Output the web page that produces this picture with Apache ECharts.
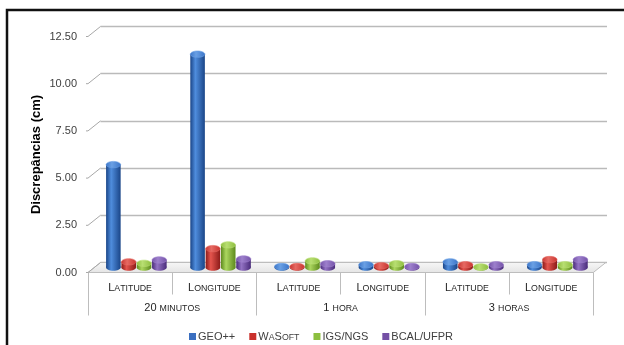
<!DOCTYPE html>
<html>
<head>
<meta charset="utf-8">
<script src="https://cdn.jsdelivr.net/npm/echarts@6/dist/echarts.min.js"></script>
<style>
  html, body { margin: 0; padding: 0; background: #fff; }
  #chart { width: 624px; height: 345px; }
</style>
</head>
<body>
<div id="chart"></div>
<script>
// Discrepancies (cm) per solution, component and session length
const subCategories = ['Latitude', 'Longitude', 'Latitude', 'Longitude', 'Latitude', 'Longitude'];
const groupCategories = ['20 minutos', '1 hora', '3 horas'];
const yTicks = [0, 2.5, 5, 7.5, 10, 12.5];
const seriesNames = ['GEO++', 'WaSoft', 'IGS/NGS', 'BCAL/UFPR'];
const geoValues = [5.45, 11.3, 0.05, 0.15, 0.3, 0.15];
const wasoftValues = [0.3, 1.0, 0.05, 0.1, 0.15, 0.42];
const igsValues = [0.22, 1.2, 0.35, 0.2, 0.03, 0.15];
const bcalValues = [0.4, 0.45, 0.2, 0.05, 0.15, 0.42];

const FONT = '"Liberation Sans", Arial, sans-serif';
// oblique depth of the 3D box (back wall offset from the front plane)
const DEPTH_X = 12.5, DEPTH_Y = 10;

const shades = [
  { legend: '#3b6fc0', dark: '#1a4588', light: '#4f8ddd', cap: '#3a74c8', capLight: '#6aa0e4' },
  { legend: '#c9302c', dark: '#8c1b19', light: '#e4544d', cap: '#c8332f', capLight: '#e66a63' },
  { legend: '#8cbf3f', dark: '#5d8a1d', light: '#acd65f', cap: '#8dbd3e', capLight: '#b8de72' },
  { legend: '#7450a5', dark: '#4a2c7b', light: '#9373c4', cap: '#7452a8', capLight: '#9d80cc' }
];

// "Latitude" -> L + small-caps ATITUDE
function smallCaps(str) {
  let out = '';
  for (const ch of str) {
    if (ch >= 'a' && ch <= 'z') out += '{s|' + ch.toUpperCase() + '}';
    else out += '{b|' + ch + '}';
  }
  return out;
}
function richCaps(big, small, color) {
  return {
    b: { fontSize: big, fontFamily: FONT, color: color, lineHeight: big, verticalAlign: 'bottom' },
    s: { fontSize: small, fontFamily: FONT, color: color, lineHeight: big, verticalAlign: 'bottom' }
  };
}

function cylinder(sIdx) {
  const c = shades[sIdx];
  return function (params, api) {
    const i = api.value(0), v = api.value(1);
    const base = api.coord([i, 0]);
    const top = api.coord([i, v]);
    const band = api.size([1, 0])[0];
    const step = band * 0.182;
    const w = step * 0.95;
    const cx = base[0] + (sIdx - 1.5) * step + DEPTH_X / 2;
    const by = base[1] - DEPTH_Y / 2;
    const ty = top[1] - DEPTH_Y / 2;
    const ry = 3.2;
    const bodyFill = new echarts.graphic.LinearGradient(0, 0, 1, 0, [
      { offset: 0, color: c.dark }, { offset: 0.35, color: c.light }, { offset: 1, color: c.dark }
    ]);
    const capFill = new echarts.graphic.LinearGradient(0, 0, 1, 0, [
      { offset: 0, color: c.cap }, { offset: 0.4, color: c.capLight }, { offset: 1, color: c.cap }
    ]);
    return {
      type: 'group',
      children: [
        { type: 'ellipse', shape: { cx: cx, cy: by, rx: w / 2, ry: ry }, style: { fill: bodyFill } },
        { type: 'rect', shape: { x: cx - w / 2, y: ty, width: w, height: Math.max(0, by - ty) }, style: { fill: bodyFill } },
        { type: 'ellipse', shape: { cx: cx, cy: ty, rx: w / 2, ry: ry }, style: { fill: capFill, stroke: c.capLight, lineWidth: 0.6 } }
      ]
    };
  };
}

const valueLists = [geoValues, wasoftValues, igsValues, bcalValues];

const barSeries = seriesNames.map((name, s) => ({
  name: name,
  type: 'custom',
  xAxisIndex: 0,
  yAxisIndex: 0,
  z: 5,
  itemStyle: { color: shades[s].legend },
  renderItem: cylinder(s),
  data: valueLists[s].map((v, i) => [i, v])
}));

const chart = echarts.init(document.getElementById('chart'), null, { renderer: 'canvas' });

chart.setOption({
  animation: false,
  backgroundColor: '#ffffff',
  color: shades.map(c => c.legend),
  graphic: [{
    type: 'rect', z: 100,
    shape: { x: 7, y: 10, width: 700, height: 400 },
    style: { fill: 'none', stroke: '#111', lineWidth: 2.5 }
  }],
  grid: [
    { left: 88, right: 30.7, top: 36.5, bottom: 72.5 },
    { left: 88 + DEPTH_X, right: 30.7 - DEPTH_X - 1.2, top: 36.5 - DEPTH_Y, bottom: 72.5 + DEPTH_Y }
  ],
  xAxis: [
    {
      type: 'category', gridIndex: 0, position: 'bottom', data: subCategories,
      axisLine: { lineStyle: { color: '#bdbdbd', width: 1 } },
      axisTick: { show: true, interval: 0, length: 22, lineStyle: { color: '#bdbdbd' } },
      axisLabel: {
        interval: 0, margin: 9.5,
        formatter: v => smallCaps(v),
        rich: richCaps(11, 8.8, '#262626')
      }
    },
    {
      type: 'category', gridIndex: 0, position: 'bottom', data: groupCategories,
      axisLine: { show: false },
      axisTick: { show: true, interval: 0, length: 43, lineStyle: { color: '#bdbdbd' } },
      axisLabel: {
        interval: 0, margin: 29.5,
        formatter: v => smallCaps(v),
        rich: richCaps(11, 8.8, '#262626')
      }
    },
    { type: 'category', gridIndex: 1, data: subCategories, show: false }
  ],
  yAxis: [
    {
      type: 'value', gridIndex: 0, min: 0, max: 12.5, interval: 2.5,
      name: 'Discrepâncias (cm)', nameLocation: 'middle', nameGap: 45, nameMoveOverlap: false,
      nameTextStyle: { fontSize: 13, fontWeight: 'bold', fontFamily: FONT, color: '#000' },
      axisLine: { show: false }, axisTick: { show: false }, splitLine: { show: false },
      axisLabel: { margin: 11, fontSize: 11, fontFamily: FONT, color: '#404040', formatter: v => v.toFixed(2) }
    },
    {
      type: 'value', gridIndex: 1, min: 0, max: 12.5, interval: 2.5,
      axisLine: { show: false }, axisTick: { show: false }, axisLabel: { show: false },
      splitLine: { lineStyle: { color: '#bababa', width: 1.3 } }
    }
  ],
  legend: {
    left: 184, top: 326,
    icon: 'rect', itemWidth: 7, itemHeight: 7, itemGap: 14,
    data: seriesNames,
    formatter: n => smallCaps(n),
    textStyle: { fontSize: 11, fontFamily: FONT, color: '#404040', padding: [0, 0, 0, -3], rich: richCaps(11, 8.8, '#404040') }
  },
  series: [
    {
      // floor of the 3D box
      type: 'custom', xAxisIndex: 0, yAxisIndex: 0, z: 2, silent: true,
      legendHoverLink: false,
      data: [[0, 0]],
      renderItem: function (params, api) {
        const cs = params.coordSys;
        const fy = cs.y + cs.height;
        return {
          type: 'polygon',
          shape: { points: [[cs.x, fy], [cs.x + cs.width, fy], [cs.x + cs.width + DEPTH_X, fy - DEPTH_Y], [cs.x + DEPTH_X, fy - DEPTH_Y]] },
          style: {
            fill: new echarts.graphic.LinearGradient(0, 0, 0, 1, [
              { offset: 0, color: '#f7f7f7' }, { offset: 1, color: '#e4e4e4' }
            ]),
            stroke: '#bdbdbd', lineWidth: 1
          }
        };
      }
    },
    {
      // oblique connectors from the value ticks to the back wall
      type: 'custom', xAxisIndex: 0, yAxisIndex: 0, z: 2, silent: true,
      data: yTicks.map(v => [0, v]),
      renderItem: function (params, api) {
        const cs = params.coordSys;
        const y = api.coord([0, api.value(1)])[1];
        return {
          type: 'polyline',
          shape: { points: [[cs.x - 2, y], [cs.x, y], [cs.x + DEPTH_X, y - DEPTH_Y]] },
          style: { stroke: '#a8a8a8', lineWidth: 1, fill: 'none' }
        };
      }
    }
  ].concat(barSeries)
});
</script>
</body>
</html>
